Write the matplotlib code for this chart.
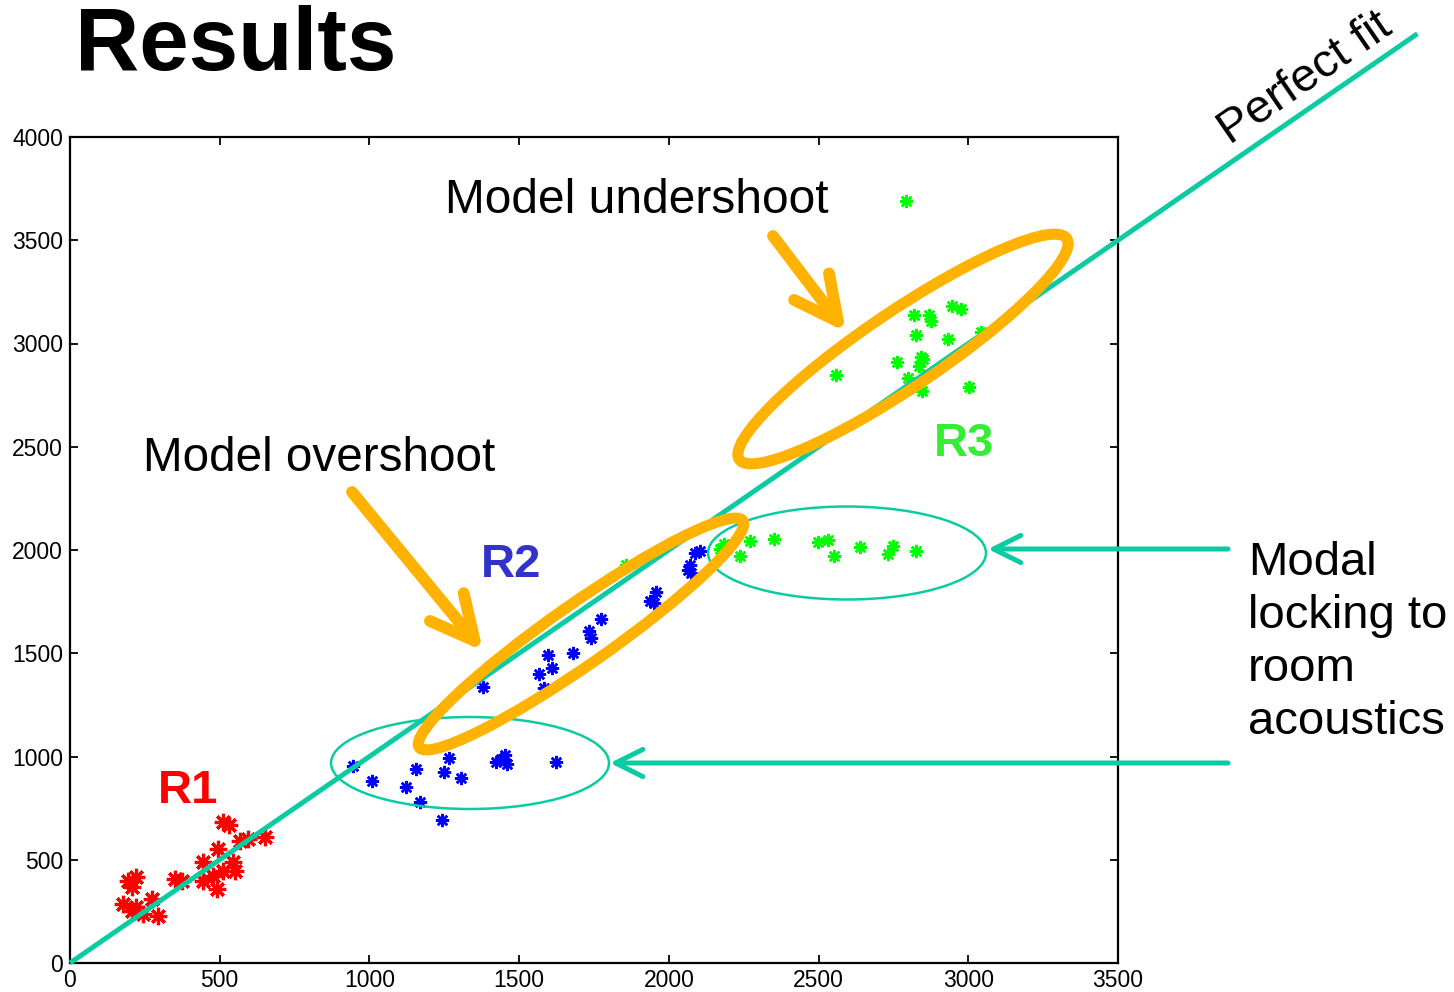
import numpy as np
import matplotlib
matplotlib.use('Agg')
import matplotlib.pyplot as plt
from matplotlib.patches import Ellipse

plt.rcParams['font.family'] = ['Liberation Sans', 'DejaVu Sans']

r1_x = [512, 530, 495, 445, 567, 595, 651, 545, 551, 512, 478, 445, 490,
        350, 373, 195, 222, 206, 178, 222, 273, 245, 295, 206]
r1_y = [682, 668, 552, 487, 593, 601, 609, 487, 447, 447, 423, 398, 358,
        407, 398, 398, 415, 366, 285, 269, 310, 237, 228, 253]

r2_x = [946, 1010, 1155, 1121, 1168, 1243, 1248, 1266, 1305, 1424, 1452, 1458,
        1441, 1624, 1380, 1583, 1567, 1610, 1597, 1680, 1733, 1741, 1775, 1936,
        1958, 1951, 2064, 2075, 2086, 2103, 2069]
r2_y = [954, 881, 941, 852, 779, 693, 927, 995, 895, 973, 1006, 966,
        990, 973, 1338, 1330, 1399, 1427, 1492, 1503, 1608, 1573, 1665, 1751,
        1799, 1743, 1905, 1888, 1986, 1994, 1929]

r3_x = [1858, 2185, 2170, 2270, 2236, 2350, 2498, 2531, 2551, 2637, 2731, 2748,
        2826, 2793, 2557, 2818, 2868, 2876, 2946, 2976, 2826, 2932, 3043, 2761,
        2843, 2837, 2848, 2798, 2846, 3002]
r3_y = [1929, 2030, 2005, 2042, 1969, 2051, 2038, 2047, 1969, 2015, 1983, 2018,
        1994, 3690, 2847, 3140, 3140, 3111, 3184, 3168, 3039, 3022, 3058, 2909,
        2933, 2893, 2925, 2831, 2771, 2788]

perfect = [0, 4500]
x_ticks = [0, 500, 1000, 1500, 2000, 2500, 3000, 3500]
y_ticks = [0, 500, 1000, 1500, 2000, 2500, 3000, 3500, 4000]
modal_lines = ['Modal', 'locking to', 'room', 'acoustics']

teal = '#0BCBA3'
orange = '#FFB300'

W, H = 1454, 992
fig = plt.figure(figsize=(W / 100, H / 100), dpi=100)
ax = fig.add_axes([70 / W, 1 - 963 / H, 1048 / W, 826 / H], zorder=1)

asterisk = (8, 2, 0)
ax.plot(r1_x, r1_y, ls='none', marker=asterisk, ms=12.5, mew=2.3, color='#FF0000', zorder=2)
ax.plot(r2_x, r2_y, ls='none', marker=asterisk, ms=9.5, mew=1.8, color='#0000FF', zorder=2)
ax.plot(r3_x, r3_y, ls='none', marker=asterisk, ms=9.5, mew=1.8, color='#00FF00', zorder=2)

# perfect fit line, runs past the box
ax.plot(perfect, perfect, color=teal, lw=3.6, clip_on=False, zorder=3,
        solid_capstyle='butt')

ax.set_xlim(0, 3500)
ax.set_ylim(0, 4000)
ax.set_xticks(x_ticks)
ax.set_yticks(y_ticks)
ax.tick_params(direction='in', top=True, right=True, length=6, width=1.3,
               labelsize=16.5)
ax.tick_params(axis='y', pad=5)
ax.tick_params(axis='x', pad=4)
for s in ax.spines.values():
    s.set_linewidth(1.6)

# overlay in pixel coordinates for the hand-drawn annotations
ann = fig.add_axes([0, 0, 1, 1], zorder=3)
ann.set_xlim(0, W)
ann.set_ylim(H, 0)
ann.axis('off')
ann.patch.set_alpha(0)

ann.text(75, 70, 'Results', fontsize=64, fontweight='bold', va='baseline')

# thin teal ellipses (modal locking)
ann.add_patch(Ellipse((470, 763), 278, 92, fill=False, ec=teal, lw=1.8))
ann.add_patch(Ellipse((847, 553), 278, 93, fill=False, ec=teal, lw=1.8))

# orange ellipses
ann.add_patch(Ellipse((581, 634), 395, 60, angle=-35, fill=False, ec=orange, lw=8))
ann.add_patch(Ellipse((903, 349), 395, 76, angle=-34, fill=False, ec=orange, lw=8))

orange_arrow = dict(arrowstyle='->,head_length=1.5,head_width=0.75', mutation_scale=21,
                    lw=8.5, color=orange, capstyle='round', joinstyle='round',
                    shrinkA=0, shrinkB=0)
ann.annotate('', xy=(483, 651), xytext=(352, 492), arrowprops=orange_arrow)
ann.annotate('', xy=(846, 332), xytext=(773, 236), arrowprops=orange_arrow)

teal_arrow = dict(arrowstyle='->,head_length=1.4,head_width=0.7', mutation_scale=14,
                  lw=3.6, color=teal, shrinkA=0, shrinkB=0)
ann.annotate('', xy=(988, 549), xytext=(1228, 549), arrowprops=teal_arrow)
ann.annotate('', xy=(610, 763), xytext=(1228, 763), arrowprops=teal_arrow)

ann.text(445, 213, 'Model undershoot', fontsize=34.5, va='baseline')
ann.text(143, 471, 'Model overshoot', fontsize=34.3, va='baseline')
ann.text(158, 803, 'R1', fontsize=34, fontweight='bold', color='#FF0000', va='baseline')
ann.text(481, 577, 'R2', fontsize=34, fontweight='bold', color='#3333CC', va='baseline')
ann.text(934, 456, 'R3', fontsize=34, fontweight='bold', color='#33EE33', va='baseline')
ann.text(1230, 145, 'Perfect fit', fontsize=34, rotation=34.5, rotation_mode='anchor',
         ha='left', va='baseline')

for i, line in enumerate(modal_lines):
    ann.text(1248, 575 + 53 * i, line, fontsize=34, va='baseline')

fig.savefig('out.png', dpi=100)
